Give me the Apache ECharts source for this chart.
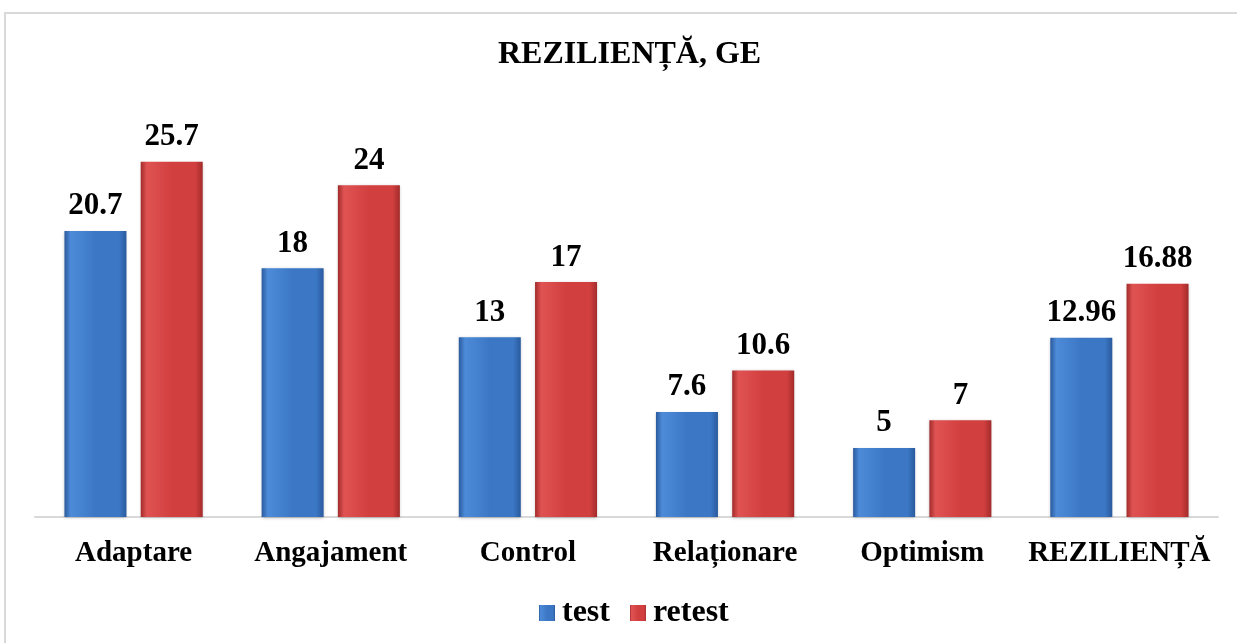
<!DOCTYPE html>
<html>
<head>
<meta charset="utf-8">
<script src="https://cdn.jsdelivr.net/npm/echarts@6/dist/echarts.min.js"></script>
<style>
  html, body { margin: 0; padding: 0; background: #fff; }
  #container { width: 1237px; height: 643px; }
</style>
</head>
<body>
<div id="container"></div>
<script>
    var categories = ['Adaptare', 'Angajament', 'Control', 'Relaționare', 'Optimism', 'REZILIENȚĂ'];
    var testValues = [20.7, 18, 13, 7.6, 5, 12.96];
    var retestValues = [25.7, 24, 17, 10.6, 7, 16.88];

    var dom = document.getElementById('container');
    var myChart = echarts.init(dom, null, { renderer: 'canvas' });

    var font = '"Liberation Serif", "Times New Roman", serif';

    // bevel look: darker edges, lighter body
    function bevel(light, mid, dark) {
      return new echarts.graphic.LinearGradient(0, 0, 1, 0, [
        { offset: 0, color: dark },
        { offset: 0.1, color: light },
        { offset: 0.5, color: mid },
        { offset: 0.88, color: mid },
        { offset: 1, color: dark }
      ]);
    }
    var blue = bevel('#4d8bd8', '#3b77c4', '#2a5a9e');
    var red = bevel('#e05353', '#d23f3f', '#a32b2b');

    var labelStyle = {
      show: true,
      position: 'top',
      distance: 9,
      fontFamily: font,
      fontWeight: 'bold',
      fontSize: 31,
      color: '#000'
    };

    var option = {
      backgroundColor: '#fff',
      title: {
        text: 'REZILIENȚĂ, GE',
        left: 493,
        top: 34,
        textStyle: { fontFamily: font, fontWeight: 'bold', fontSize: 32, color: '#000' }
      },
      legend: {
        bottom: 9,
        left: 534,
        icon: 'rect',
        itemWidth: 16,
        itemHeight: 16,
        itemGap: 20,
        textStyle: { fontFamily: font, fontWeight: 'bold', fontSize: 32, color: '#000', padding: [0, 0, 0, 2] },
        data: [
          { name: 'test', itemStyle: { color: blue } },
          { name: 'retest', itemStyle: { color: red } }
        ]
      },
      graphic: [{
        type: 'rect',
        shape: { x: 5, y: 13, width: 1300, height: 700 },
        style: { fill: 'none', stroke: '#d9d9d9', lineWidth: 2 },
        silent: true
      }],
      grid: { left: 35, right: 19, top: 130, bottom: 126 },
      xAxis: {
        type: 'category',
        data: categories,
        axisLine: { lineStyle: { color: '#d9d9d9', width: 2 } },
        axisTick: { show: false },
        axisLabel: {
          margin: 22,
          fontFamily: font,
          fontWeight: 'bold',
          fontSize: 29,
          color: '#000',
          interval: 0
        }
      },
      yAxis: {
        type: 'value',
        min: 0,
        max: 28,
        show: false,
        splitLine: { show: false }
      },
      series: [
        {
          name: 'test',
          type: 'bar',
          data: testValues,
          barWidth: 62,
          barGap: '23%',
          itemStyle: {
            color: blue,
            shadowColor: 'rgba(0,0,0,0.25)',
            shadowBlur: 3,
            shadowOffsetY: 1
          },
          label: labelStyle
        },
        {
          name: 'retest',
          type: 'bar',
          data: retestValues,
          barWidth: 62,
          itemStyle: {
            color: red,
            shadowColor: 'rgba(0,0,0,0.25)',
            shadowBlur: 3,
            shadowOffsetY: 1
          },
          label: labelStyle
        }
      ]
    };

    myChart.setOption(option);
    window.addEventListener('resize', myChart.resize);
</script>
</body>
</html>
